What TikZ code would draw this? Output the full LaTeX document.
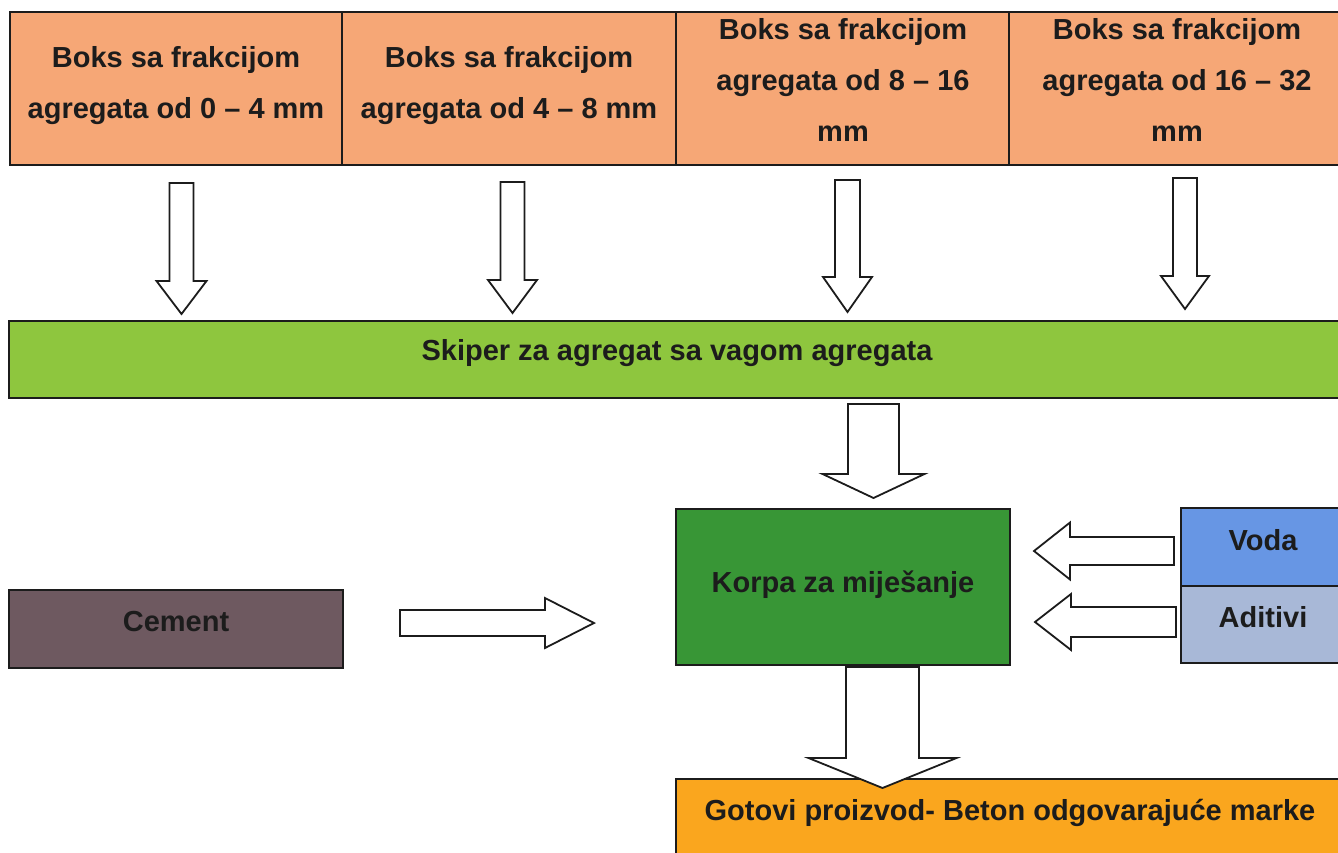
\documentclass[tikz,border=0pt]{standalone}
\usepackage{fontspec}
\setmainfont{Liberation Sans}
\usetikzlibrary{calc}
\definecolor{salmon}{RGB}{246,167,118}
\definecolor{lgreen}{RGB}{142,198,62}
\definecolor{dgreen}{RGB}{56,150,54}
\definecolor{cementc}{RGB}{110,89,96}
\definecolor{vodac}{RGB}{103,150,228}
\definecolor{aditc}{RGB}{168,184,215}
\definecolor{gotc}{RGB}{250,166,30}
\definecolor{ink}{RGB}{28,28,28}
\begin{document}
\begin{tikzpicture}[x=1pt,y=-1pt,
  box/.style={draw=ink, line width=1.5pt, inner sep=0pt},
  lbl/.style={font=\fontsize{29}{51}\selectfont\bfseries, text=ink, align=center, inner sep=0pt},
  barrow/.style={draw=ink, line width=1.8pt, fill=white, line join=miter},
  blk/.style n args={3}{to path={let \p1=(\tikztostart), \p2=(\tikztotarget), \p3=($(\p2)!#3pt!(\p1)$) in ($(\p1)!#1pt!90:(\p2)$) -- ($(\p3)!#1pt!90:(\p2)$) -- ($(\p3)!#2pt!90:(\p2)$) -- (\p2) -- ($(\p3)!#2pt!-90:(\p2)$) -- ($(\p3)!#1pt!-90:(\p2)$) -- ($(\p1)!#1pt!-90:(\p2)$) -- cycle}}
]
\useasboundingbox (0,0) rectangle (1338,852);
\clip (0,0) rectangle (1338,852);
\fill[white] (0,0) rectangle (1338,852);

% boxes
\node[box, fill=salmon, minimum width=332, minimum height=153] (b1) at (176,88.5) {};
\node[box, fill=salmon, minimum width=334, minimum height=153] (b2) at (509,88.5) {};
\node[box, fill=salmon, minimum width=333, minimum height=153] (b3) at (842.5,88.5) {};
\node[box, fill=salmon, minimum width=334, minimum height=153] (b4) at (1176,88.5) {};
\node[box, fill=lgreen, minimum width=1336, minimum height=77] (g) at (677,359.5) {};
\node[box, fill=dgreen, minimum width=334, minimum height=156] (k) at (843,587) {};
\node[box, fill=cementc, minimum width=334, minimum height=78] (c) at (176,629) {};
\node[box, fill=vodac, minimum width=164, minimum height=78] (v) at (1263,547) {};
\node[box, fill=aditc, minimum width=164, minimum height=77] (ad) at (1263,624.5) {};
\node[box, fill=gotc, minimum width=669, minimum height=101] (go) at (1010.5,829.5) {};

% arrow end points
\coordinate (a1s) at (181.5,183); \coordinate (a1e) at (181.5,314);
\coordinate (a2s) at (512.5,182); \coordinate (a2e) at (512.5,313);
\coordinate (a3s) at (847.5,180); \coordinate (a3e) at (847.5,312);
\coordinate (a4s) at (1185,178);  \coordinate (a4e) at (1185,309);
\coordinate (a5s) at (873.5,404); \coordinate (a5e) at (873.5,498);
\coordinate (a6s) at (882.5,667); \coordinate (a6e) at (882.5,788);
\coordinate (acs) at (400,623);   \coordinate (ace) at (594,623);
\coordinate (avs) at (1174,551);  \coordinate (ave) at (1034,551);
\coordinate (aas) at (1176,622);  \coordinate (aae) at (1035,622);

\draw[barrow] (a1s) to[blk={12}{25}{33}] (a1e);
\draw[barrow] (a2s) to[blk={12}{24.5}{33}] (a2e);
\draw[barrow] (a3s) to[blk={12.5}{24.5}{35}] (a3e);
\draw[barrow] (a4s) to[blk={12}{24}{33}] (a4e);
\draw[barrow] (a5s) to[blk={25.5}{51}{24}] (a5e);
\draw[barrow] (a6s) to[blk={36.5}{74}{30}] (a6e);
\draw[barrow] (acs) to[blk={13}{25}{49}] (ace);
\draw[barrow] (avs) to[blk={14}{28.5}{36}] (ave);
\draw[barrow] (aas) to[blk={15}{28}{36}] (aae);

% texts
\node[lbl] (t1) at (176,85.5) {Boks sa frakcijom\\agregata od 0 – 4 mm};
\node[lbl] (t2) at (509,85.5) {Boks sa frakcijom\\agregata od 4 – 8 mm};
\node[lbl] (t3) at (843,80) {Boks sa frakcijom\\agregata od 8 – 16\\mm};
\node[lbl] (t4) at (1177,80) {Boks sa frakcijom\\agregata od 16 – 32\\mm};
\node[lbl] (tg) at (677,353) {Skiper za agregat sa vagom agregata};
\node[lbl] (tk) at (843,585) {Korpa za miješanje};
\node[lbl] (tc) at (176,622) {Cement};
\node[lbl] (tv) at (1263,540) {Voda};
\node[lbl] (ta) at (1263,617) {Aditivi};
\node[lbl] (tgo) at (1010,813) {Gotovi proizvod- Beton odgovarajuće marke};
\end{tikzpicture}
\end{document}
